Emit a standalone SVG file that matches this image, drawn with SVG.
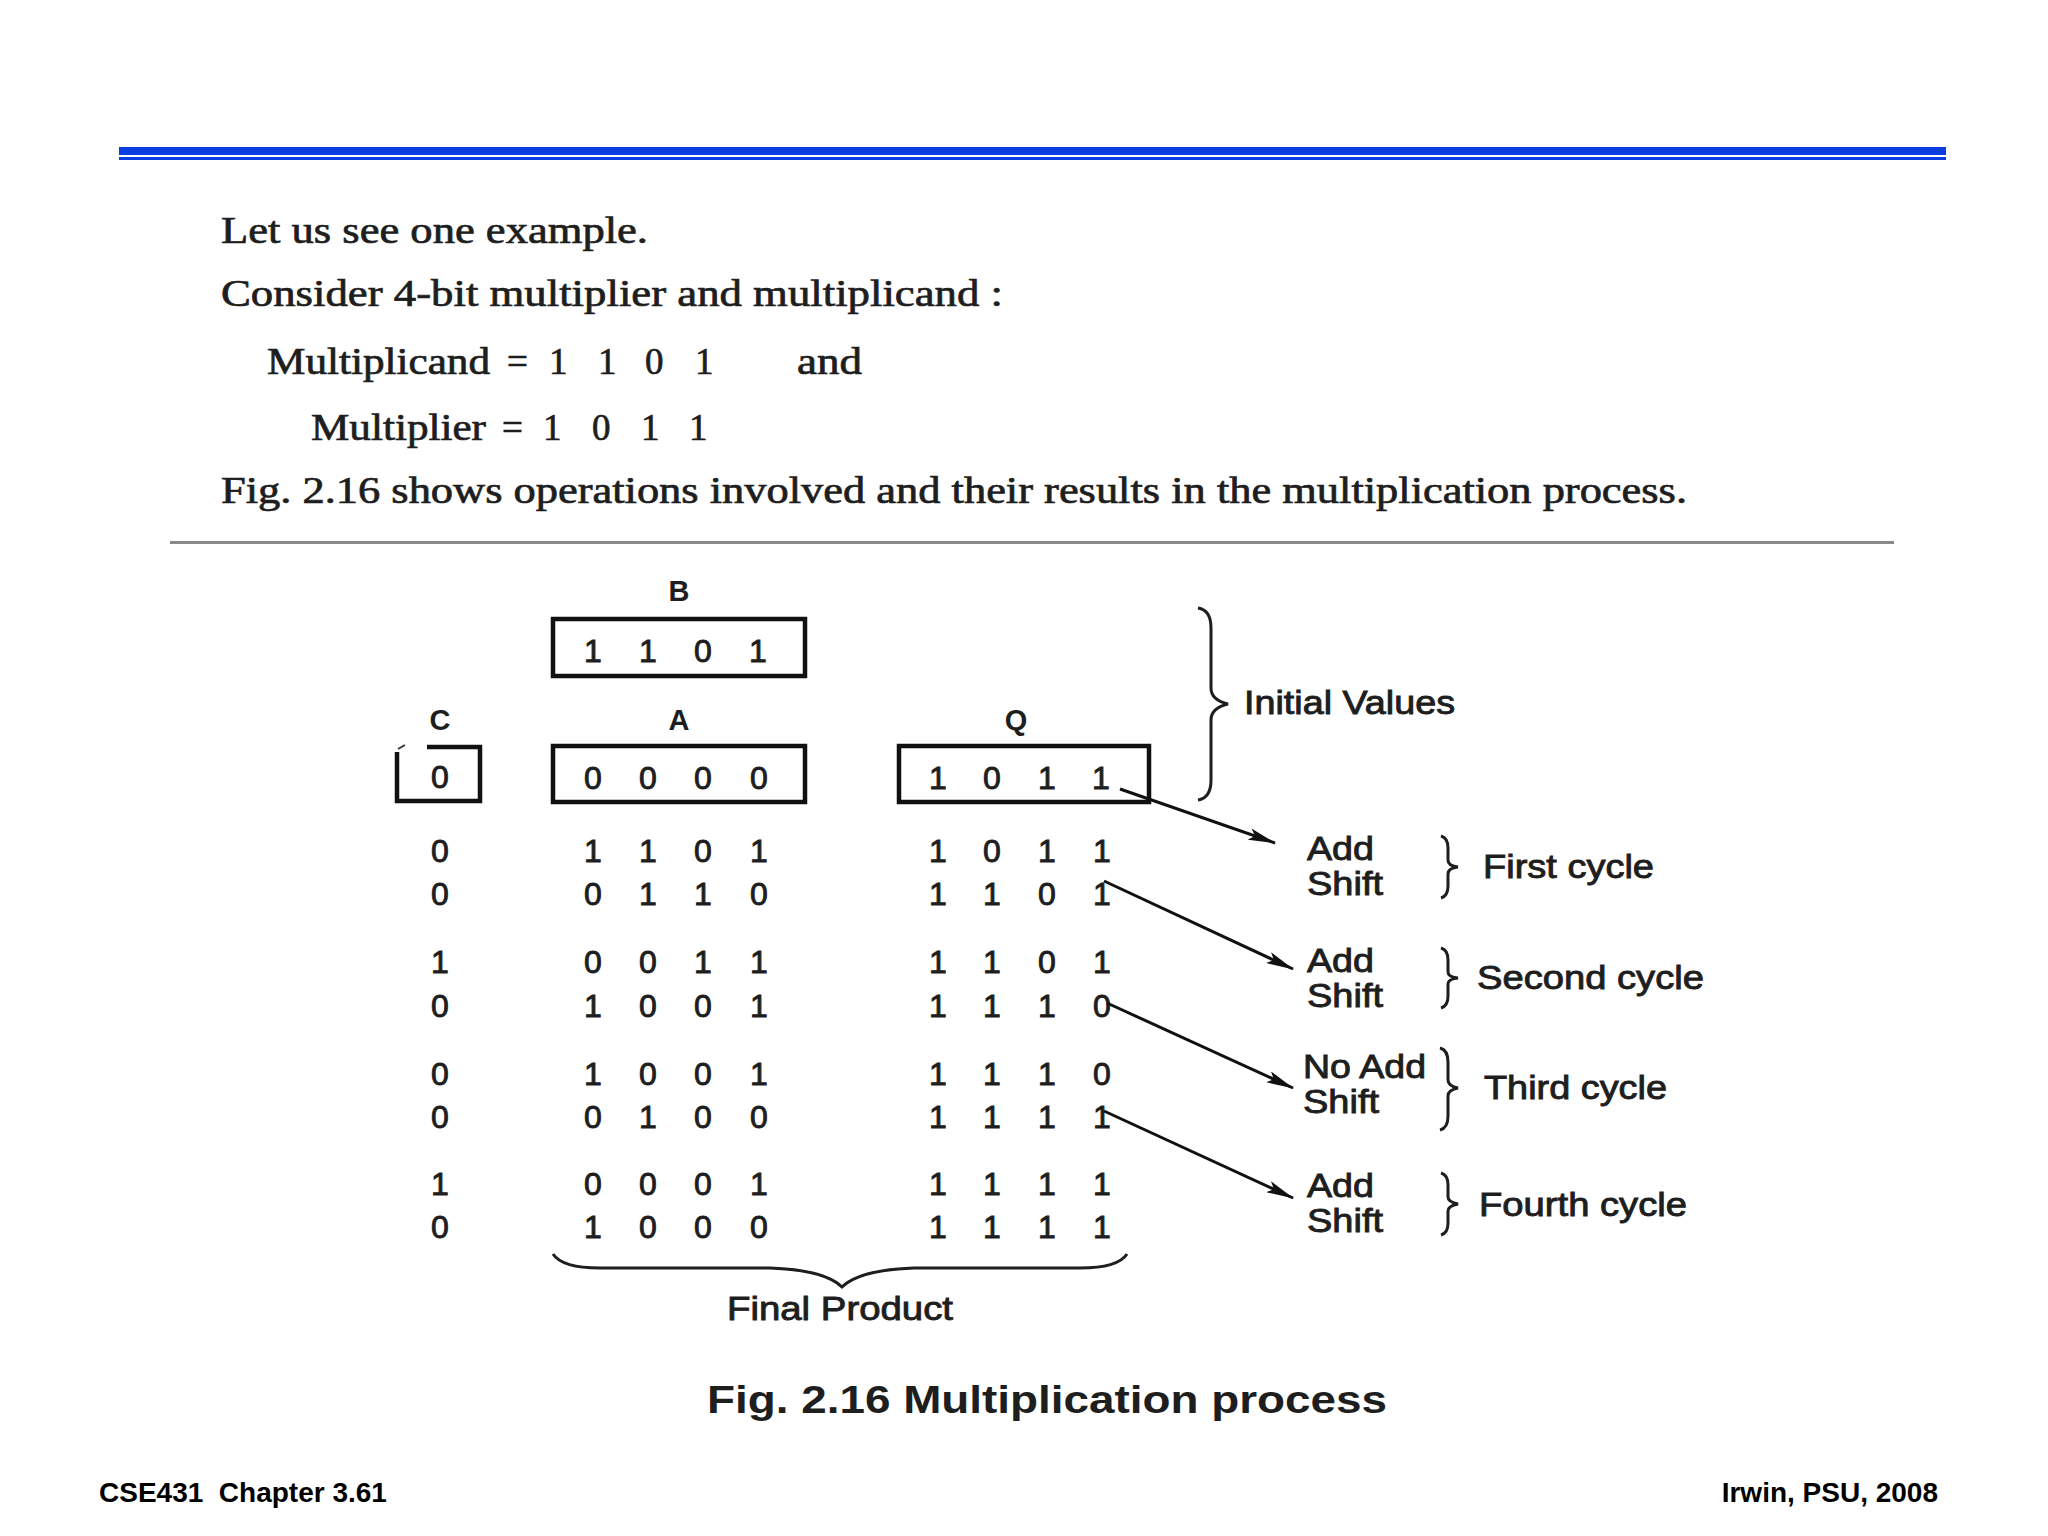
<svg xmlns="http://www.w3.org/2000/svg" width="2048" height="1536" viewBox="0 0 2048 1536">
<style>
.serif{font-family:"Liberation Serif","Times New Roman",serif;font-size:37px;fill:#1e1e1e;stroke:#1e1e1e;stroke-width:0.7}
.d{font-family:"Liberation Sans",Arial,sans-serif;font-size:32px;fill:#1e1e1e;stroke:#1e1e1e;stroke-width:0.9;text-anchor:middle}
.lbl{font-family:"Liberation Sans",Arial,sans-serif;font-size:29px;font-weight:bold;fill:#1e1e1e;text-anchor:middle}
.t{font-family:"Liberation Sans",Arial,sans-serif;font-size:33px;fill:#1e1e1e;stroke:#1e1e1e;stroke-width:0.9}
.box{fill:none;stroke:#111;stroke-width:4.5}
.br{fill:none;stroke:#1e1e1e;stroke-width:3}
.foot{font-family:"Liberation Sans",Arial,sans-serif;font-size:28px;font-weight:bold;fill:#000}
</style>
<defs>
<marker id="ah" viewBox="0 0 28 12" refX="27" refY="6" markerWidth="28" markerHeight="12" markerUnits="userSpaceOnUse" orient="auto">
<path d="M0,0 L28,6 L0,12 L6,6 z" fill="#111"/>
</marker>
</defs>
<rect width="2048" height="1536" fill="#fff"/>

<g id="header-rule">
<rect x="119" y="147" width="1827" height="8" fill="#0a3ee0"/>
<rect x="119" y="157" width="1827" height="3" fill="#0a3ee0"/>
</g>

<g id="intro-text">
<text class="serif" x="221" y="243" textLength="427" lengthAdjust="spacingAndGlyphs">Let us see one example.</text>
<text class="serif" x="221" y="306" textLength="782" lengthAdjust="spacingAndGlyphs">Consider 4-bit multiplier and multiplicand :</text>
<text class="serif" y="374"><tspan x="267" textLength="223" lengthAdjust="spacingAndGlyphs">Multiplicand</tspan><tspan x="507">=</tspan><tspan x="549">1</tspan><tspan x="598">1</tspan><tspan x="645">0</tspan><tspan x="695">1</tspan><tspan x="797" textLength="65" lengthAdjust="spacingAndGlyphs">and</tspan></text>
<text class="serif" y="440"><tspan x="311" textLength="175" lengthAdjust="spacingAndGlyphs">Multiplier</tspan><tspan x="502">=</tspan><tspan x="543">1</tspan><tspan x="592">0</tspan><tspan x="641">1</tspan><tspan x="689">1</tspan></text>
<text class="serif" x="221" y="503" textLength="1466" lengthAdjust="spacingAndGlyphs">Fig. 2.16 shows operations involved and their results in the multiplication process.</text>
</g>

<g id="divider">
<rect x="170" y="541" width="1724" height="3" fill="#8a8a8a"/>
</g>

<g id="reg-B">
<text class="lbl" x="679" y="601">B</text>
<rect class="box" x="553" y="619" width="252" height="57"/>
<text class="d" y="662"><tspan x="593">1</tspan><tspan x="648">1</tspan><tspan x="703">0</tspan><tspan x="758">1</tspan></text>
</g>

<g id="reg-C">
<text class="lbl" x="440" y="730">C</text>
<path class="box" d="M427,747 H480 V801 H397 V752"/>
<path d="M398,749 L405,745" stroke="#333" stroke-width="2" fill="none"/>
<text class="d" x="440" y="788">0</text>
</g>

<g id="reg-A">
<text class="lbl" x="679" y="730">A</text>
<rect class="box" x="553" y="746" width="252" height="56"/>
<text class="d" y="789"><tspan x="593">0</tspan><tspan x="648">0</tspan><tspan x="703">0</tspan><tspan x="759">0</tspan></text>
</g>

<g id="reg-Q">
<text class="lbl" x="1016" y="730">Q</text>
<rect class="box" x="899" y="746" width="250" height="56"/>
<text class="d" y="789"><tspan x="938">1</tspan><tspan x="992">0</tspan><tspan x="1047">1</tspan><tspan x="1101">1</tspan></text>
</g>

<g id="rows">
<text class="d" y="862"><tspan x="440">0</tspan><tspan x="593">1</tspan><tspan x="648">1</tspan><tspan x="703">0</tspan><tspan x="759">1</tspan><tspan x="938">1</tspan><tspan x="992">0</tspan><tspan x="1047">1</tspan><tspan x="1102">1</tspan></text>
<text class="d" y="905"><tspan x="440">0</tspan><tspan x="593">0</tspan><tspan x="648">1</tspan><tspan x="703">1</tspan><tspan x="759">0</tspan><tspan x="938">1</tspan><tspan x="992">1</tspan><tspan x="1047">0</tspan><tspan x="1102">1</tspan></text>
<text class="d" y="973"><tspan x="440">1</tspan><tspan x="593">0</tspan><tspan x="648">0</tspan><tspan x="703">1</tspan><tspan x="759">1</tspan><tspan x="938">1</tspan><tspan x="992">1</tspan><tspan x="1047">0</tspan><tspan x="1102">1</tspan></text>
<text class="d" y="1017"><tspan x="440">0</tspan><tspan x="593">1</tspan><tspan x="648">0</tspan><tspan x="703">0</tspan><tspan x="759">1</tspan><tspan x="938">1</tspan><tspan x="992">1</tspan><tspan x="1047">1</tspan><tspan x="1102">0</tspan></text>
<text class="d" y="1085"><tspan x="440">0</tspan><tspan x="593">1</tspan><tspan x="648">0</tspan><tspan x="703">0</tspan><tspan x="759">1</tspan><tspan x="938">1</tspan><tspan x="992">1</tspan><tspan x="1047">1</tspan><tspan x="1102">0</tspan></text>
<text class="d" y="1128"><tspan x="440">0</tspan><tspan x="593">0</tspan><tspan x="648">1</tspan><tspan x="703">0</tspan><tspan x="759">0</tspan><tspan x="938">1</tspan><tspan x="992">1</tspan><tspan x="1047">1</tspan><tspan x="1102">1</tspan></text>
<text class="d" y="1195"><tspan x="440">1</tspan><tspan x="593">0</tspan><tspan x="648">0</tspan><tspan x="703">0</tspan><tspan x="759">1</tspan><tspan x="938">1</tspan><tspan x="992">1</tspan><tspan x="1047">1</tspan><tspan x="1102">1</tspan></text>
<text class="d" y="1238"><tspan x="440">0</tspan><tspan x="593">1</tspan><tspan x="648">0</tspan><tspan x="703">0</tspan><tspan x="759">0</tspan><tspan x="938">1</tspan><tspan x="992">1</tspan><tspan x="1047">1</tspan><tspan x="1102">1</tspan></text>
</g>

<g id="initial-values">
<path class="br" d="M1198,608 Q1211,610 1211,628 L1211,688 Q1211,700 1228,704 Q1211,708 1211,720 L1211,780 Q1211,798 1198,800"/>
<text class="t" x="1244" y="714" textLength="211" lengthAdjust="spacingAndGlyphs">Initial Values</text>
</g>

<g id="cycle-1">
<text class="t" x="1307" y="860" textLength="67" lengthAdjust="spacingAndGlyphs">Add</text>
<text class="t" x="1307" y="895" textLength="76" lengthAdjust="spacingAndGlyphs">Shift</text>
<path class="br" d="M1441,836 Q1448,838 1448,848 L1448,860 Q1448,866 1458,867 Q1448,868 1448,874 L1448,886 Q1448,896 1441,898"/>
<text class="t" x="1483" y="878" textLength="171" lengthAdjust="spacingAndGlyphs">First cycle</text>
</g>

<g id="cycle-2">
<text class="t" x="1307" y="972" textLength="67" lengthAdjust="spacingAndGlyphs">Add</text>
<text class="t" x="1307" y="1007" textLength="76" lengthAdjust="spacingAndGlyphs">Shift</text>
<path class="br" d="M1441,948 Q1448,950 1448,960 L1448,972 Q1448,977 1458,978 Q1448,979 1448,984 L1448,996 Q1448,1006 1441,1008"/>
<text class="t" x="1477" y="989" textLength="227" lengthAdjust="spacingAndGlyphs">Second cycle</text>
</g>

<g id="cycle-3">
<text class="t" x="1303" y="1078" textLength="123" lengthAdjust="spacingAndGlyphs">No Add</text>
<text class="t" x="1303" y="1113" textLength="76" lengthAdjust="spacingAndGlyphs">Shift</text>
<path class="br" d="M1440,1048 Q1448,1050 1448,1062 L1448,1080 Q1448,1086 1458,1088 Q1448,1090 1448,1096 L1448,1116 Q1448,1128 1440,1130"/>
<text class="t" x="1484" y="1099" textLength="183" lengthAdjust="spacingAndGlyphs">Third cycle</text>
</g>

<g id="cycle-4">
<text class="t" x="1307" y="1197" textLength="67" lengthAdjust="spacingAndGlyphs">Add</text>
<text class="t" x="1307" y="1232" textLength="76" lengthAdjust="spacingAndGlyphs">Shift</text>
<path class="br" d="M1441,1173 Q1448,1175 1448,1185 L1448,1197 Q1448,1202 1458,1204 Q1448,1206 1448,1211 L1448,1223 Q1448,1233 1441,1235"/>
<text class="t" x="1479" y="1216" textLength="208" lengthAdjust="spacingAndGlyphs">Fourth cycle</text>
</g>

<g id="final-product">
<path class="br" d="M553,1254 Q562,1268 600,1268 L770,1268 Q825,1270 842,1287 Q859,1270 914,1268 L1080,1268 Q1118,1268 1127,1254"/>
<text class="t" x="727" y="1320" textLength="226" lengthAdjust="spacingAndGlyphs">Final Product</text>
</g>

<g id="connectors" stroke="#111" stroke-width="3" fill="none">
<line x1="1120" y1="789" x2="1275" y2="843" marker-end="url(#ah)"/>
<line x1="1104" y1="881" x2="1293" y2="969" marker-end="url(#ah)"/>
<line x1="1107" y1="1003" x2="1293" y2="1088" marker-end="url(#ah)"/>
<line x1="1104" y1="1111" x2="1293" y2="1198" marker-end="url(#ah)"/>
</g>

<g id="caption">
<text x="707" y="1413" font-family="'Liberation Sans',Arial,sans-serif" font-size="38" font-weight="bold" fill="#1e1e1e" textLength="680" lengthAdjust="spacingAndGlyphs">Fig. 2.16 Multiplication process</text>
</g>

<g id="footer">
<text class="foot" x="99" y="1502" xml:space="preserve">CSE431  Chapter 3.61</text>
<text class="foot" x="1938" y="1502" text-anchor="end">Irwin, PSU, 2008</text>
</g>
</svg>
